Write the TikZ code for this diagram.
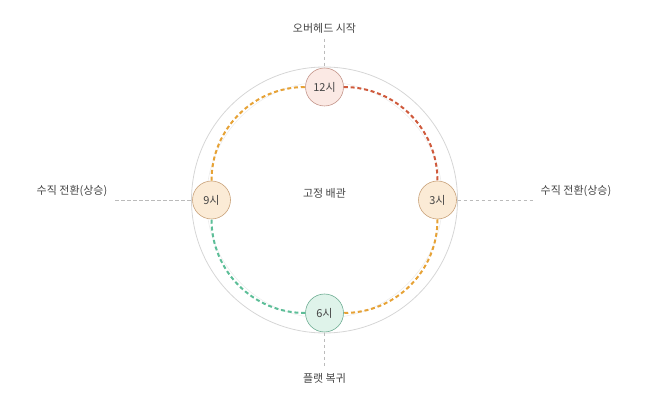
\documentclass[tikz,border=0pt]{standalone}
\usepackage{fontspec}
\setmainfont{Noto Sans CJK KR}
\usepackage{tikz}
\usetikzlibrary{calc}
\definecolor{ringgray}{HTML}{D6D6D6}
\definecolor{faintgray}{HTML}{EDEDED}
\definecolor{guidegray}{HTML}{BBBBBB}
\definecolor{txtgray}{HTML}{444444}
\definecolor{redline}{HTML}{CF5A3C}
\definecolor{orangeline}{HTML}{E6A236}
\definecolor{greenline}{HTML}{5DBE98}
\definecolor{pinkfill}{HTML}{FBE9E4}
\definecolor{pinkdraw}{HTML}{C4958A}
\definecolor{tanfill}{HTML}{FBEBD6}
\definecolor{tandraw}{HTML}{C9A27A}
\definecolor{mintfill}{HTML}{DFF3EA}
\definecolor{mintdraw}{HTML}{6FAE94}

\begin{document}
\begin{tikzpicture}[x=1pt,y=1pt,
  font=\fontsize{11}{13}\selectfont,text=txtgray,
  clock/.style={circle,minimum size=38pt,inner sep=0pt,line width=0.6pt},
  leg/.style={line width=2pt,dash pattern=on 4pt off 2.8pt,bend left=45},
  guide/.style={guidegray,line width=0.7pt,dash pattern=on 3.5pt off 2.5pt}]
  \useasboundingbox (0,0) rectangle (650,401);
  \coordinate (c) at (324.5,201);

  % rings
  \draw[ringgray,line width=0.8pt] (c) circle (133);
  \draw[faintgray,line width=0.6pt] (c) circle (118);

  % clock positions
  \node[clock,fill=pinkfill,draw=pinkdraw] (n12) at ($(c)+(0,113)$) {12시};
  \node[clock,fill=tanfill,draw=tandraw] (n3) at ($(c)+(113,0)$) {3시};
  \node[clock,fill=mintfill,draw=mintdraw] (n6) at ($(c)+(0,-113)$) {6시};
  \node[clock,fill=tanfill,draw=tandraw] (n9) at ($(c)+(-113,0)$) {9시};
  \node (mid) at ($(c)+(0,7)$) {고정 배관};

  % arcs between positions
  \draw[leg,orangeline] (n9) to (n12);
  \draw[leg,redline] (n12) to (n3);
  \draw[leg,orangeline] (n3) to (n6);
  \draw[leg,greenline] (n6) to (n9);

  % callouts
  \node (top) at (324.5,373) {오버헤드 시작};
  \node (bot) at (324.5,23) {플랫 복귀};
  \node (lft) at (72,210) {수직 전환(상승)};
  \node (rgt) at (576,210) {수직 전환(상승)};
  \coordinate (ringN) at ($(c)+(0,133)$);
  \coordinate (ringS) at ($(c)+(0,-133)$);
  \coordinate (ringW) at ($(c)+(-133,0)$);
  \coordinate (ringE) at ($(c)+(133,0)$);
  \coordinate (lftend) at (115,201);
  \coordinate (rgtend) at (535,201);
  \draw[guide] ([yshift=-2pt]top.south) -- (ringN);
  \draw[guide] (ringS) -- ([yshift=2pt]bot.north);
  \draw[guide] (lftend) -- (ringW);
  \draw[guide] (ringE) -- (rgtend);
\end{tikzpicture}
\end{document}
